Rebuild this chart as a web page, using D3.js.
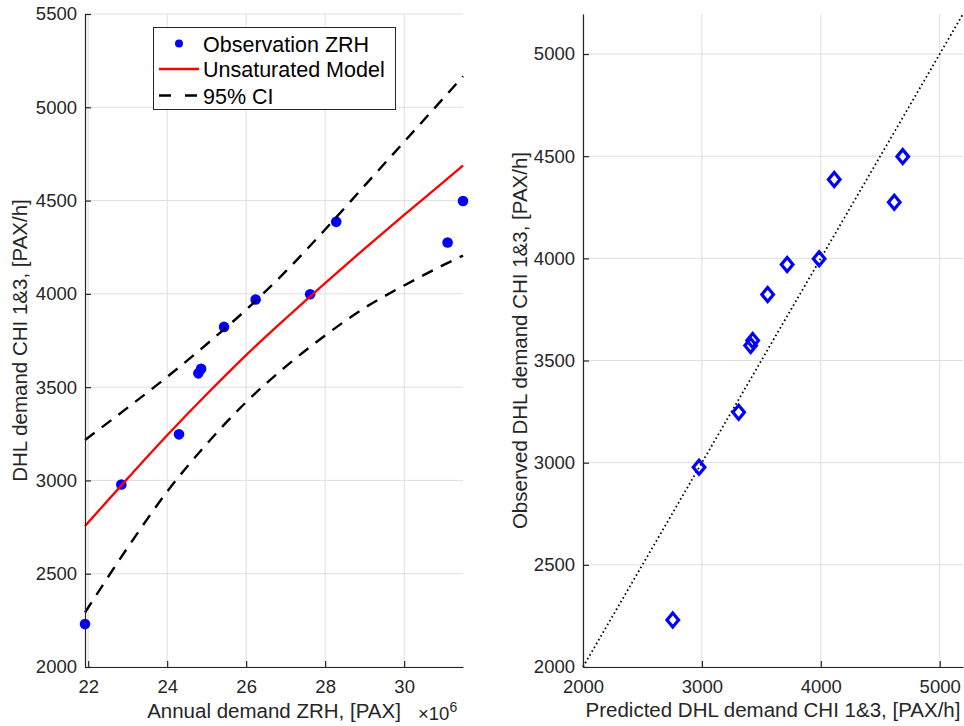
<!DOCTYPE html>
<html>
<head>
<meta charset="utf-8">
<script src="https://cdn.jsdelivr.net/npm/d3@7"></script>
<style>
  body { margin: 0; background: #fff; }
  svg { display: block; font-family: "Liberation Sans", Arial, Helvetica, sans-serif; }
</style>
</head>
<body>
<svg id="fig" width="964" height="726"></svg>
<script>
// Annual ZRH demand (millions of PAX) for each observed year
const annualDemand = [21.92, 22.84, 24.30, 24.79, 24.86, 25.44, 26.24, 27.62, 28.28, 31.10, 31.49];
// Observed DHL demand at CHI 1&3 [PAX/h]
const observedDHL = [2230, 2978, 3247, 3574, 3598, 3823, 3970, 3998, 4386, 4275, 4498];
// Unsaturated model prediction at the observed annual demands [PAX/h]
const predictedDHL = [2755, 2976, 3309, 3410, 3427, 3553, 3717, 3986, 4113, 4618, 4689];
// Model curve and its 95% confidence band along the annual demand axis
const curveDemand = [21.92, 23, 24, 25, 26, 27, 28, 29, 30, 31, 31.49];
const modelCurve = [2756, 3011, 3242, 3462, 3672, 3868, 4058, 4243, 4423, 4600, 4688];
const ciLower = [2292, 2640, 2940, 3195, 3420, 3610, 3777, 3925, 4045, 4155, 4205];
const ciUpper = [3217, 3390, 3555, 3730, 3915, 4120, 4345, 4580, 4815, 5050, 5166];

// Tick values
const leftXTicks = [22, 24, 26, 28, 30];
const leftYTicks = [2000, 2500, 3000, 3500, 4000, 4500, 5000, 5500];
const rightXTicks = [2000, 3000, 4000, 5000];
const rightYTicks = [2000, 2500, 3000, 3500, 4000, 4500, 5000];

const legendLabels = ["Observation ZRH", "Unsaturated Model", "95% CI"];

const svg = d3.select("#fig");
svg.append("rect").attr("width", 964).attr("height", 726).attr("fill", "#fff");

const AX = "#262626";
const GRID = "#dfdfdf";
const TICK_FONT = "18.5px";
const LABEL_FONT = "20.5px";

function styleAxis(g) {
  g.attr("font-family", null).attr("font-size", null);
  g.select(".domain").attr("stroke", AX).attr("stroke-width", 1.2);
  g.selectAll(".tick line").attr("stroke", AX).attr("stroke-width", 1.2);
  g.selectAll(".tick text").attr("fill", AX).style("font-size", TICK_FONT);
}

function grid(g, x, y, xt, yt) {
  const [x0, x1] = x.range();
  const [y0, y1] = y.range();
  g.selectAll("line.gx").data(xt).join("line")
    .attr("x1", d => x(d)).attr("x2", d => x(d))
    .attr("y1", y0).attr("y2", y1)
    .attr("stroke", GRID).attr("stroke-width", 1);
  g.selectAll("line.gy").data(yt).join("line")
    .attr("x1", x0).attr("x2", x1)
    .attr("y1", d => y(d)).attr("y2", d => y(d))
    .attr("stroke", GRID).attr("stroke-width", 1);
}

// ---------- Left panel: demand vs annual traffic ----------
const xL = d3.scaleLinear([21.92, 31.49], [85, 463]);
const yL = d3.scaleLinear([2000, 5500], [667, 14]);

const left = svg.append("g");
grid(left.append("g"), xL, yL, leftXTicks, leftYTicks);

const obs = annualDemand.map((a, i) => ({ a, v: observedDHL[i], p: predictedDHL[i] }));

left.append("g").selectAll("circle").data(obs).join("circle")
  .attr("cx", d => xL(d.a)).attr("cy", d => yL(d.v))
  .attr("r", 5.3).attr("fill", "#0000ff");

const curveLine = (vals) => d3.line()
  .x((d, i) => xL(curveDemand[i])).y(d => yL(d)).curve(d3.curveMonotoneX)(vals);

left.append("path").attr("d", curveLine(modelCurve))
  .attr("fill", "none").attr("stroke", "#ff0000").attr("stroke-width", 2.3);

[ciLower, ciUpper].forEach(vals => {
  left.append("path").attr("d", curveLine(vals))
    .attr("fill", "none").attr("stroke", "#000").attr("stroke-width", 2.4)
    .attr("stroke-dasharray", "12,9");
});

left.append("g").attr("transform", "translate(0,667)")
  .call(d3.axisBottom(xL).tickValues(leftXTicks).tickFormat(d3.format("d"))
    .tickSizeInner(-6).tickSizeOuter(0).tickPadding(13))
  .call(styleAxis);
left.append("g").attr("transform", "translate(85,0)")
  .call(d3.axisLeft(yL).tickValues(leftYTicks).tickFormat(d3.format("d"))
    .tickSizeInner(-6).tickSizeOuter(0).tickPadding(8))
  .call(styleAxis);

left.append("text").attr("x", 274).attr("y", 718).attr("text-anchor", "middle")
  .attr("fill", AX).style("font-size", LABEL_FONT).text("Annual demand ZRH, [PAX]");
const expo = left.append("text").attr("x", 418).attr("y", 720)
  .attr("fill", AX).style("font-size", "18.5px");
expo.append("tspan").text("×10");
expo.append("tspan").attr("dy", -8).style("font-size", "14px").text("6");

left.append("text")
  .attr("transform", "translate(27,340.5) rotate(-90)")
  .attr("text-anchor", "middle").attr("fill", AX).style("font-size", LABEL_FONT)
  .text("DHL demand CHI 1&3, [PAX/h]");

// Legend
const lg = left.append("g");
lg.append("rect").attr("x", 153.5).attr("y", 27.5).attr("width", 242).attr("height", 82)
  .attr("fill", "#fff").attr("stroke", AX).attr("stroke-width", 1);
const rowY = [43.5, 69, 95.5];
lg.append("circle").attr("cx", 179).attr("cy", rowY[0]).attr("r", 4).attr("fill", "#0000ff");
lg.append("line").attr("x1", 159).attr("x2", 199).attr("y1", rowY[1]).attr("y2", rowY[1])
  .attr("stroke", "#ff0000").attr("stroke-width", 2.3);
lg.append("line").attr("x1", 159).attr("x2", 199).attr("y1", rowY[2]).attr("y2", rowY[2])
  .attr("stroke", "#000").attr("stroke-width", 2.4).attr("stroke-dasharray", "12,14");
lg.selectAll("text").data(legendLabels).join("text")
  .attr("x", 203).attr("y", (d, i) => rowY[i] + 8)
  .attr("fill", "#000").style("font-size", "21.5px").text(d => d);

// ---------- Right panel: observed vs predicted ----------
const xR = d3.scaleLinear([2000, 5196], [583, 963]);
const yR = d3.scaleLinear([2000, 5196], [667, 14]);

const right = svg.append("g");
grid(right.append("g"), xR, yR, rightXTicks, rightYTicks);

right.append("line")
  .attr("x1", xR(2000)).attr("y1", yR(2000)).attr("x2", xR(5196)).attr("y2", yR(5196))
  .attr("stroke", "#000").attr("stroke-width", 1.8).attr("stroke-dasharray", "1.6,2.8");

const diamond = "M0,-7L5.8,0L0,7L-5.8,0Z";
right.append("g").selectAll("path").data(obs).join("path")
  .attr("transform", d => `translate(${xR(d.p)},${yR(d.v)})`)
  .attr("d", diamond).attr("fill", "none").attr("stroke", "#0000ff")
  .attr("stroke-width", 3.2).attr("stroke-linejoin", "miter");

right.append("g").attr("transform", "translate(0,667)")
  .call(d3.axisBottom(xR).tickValues(rightXTicks).tickFormat(d3.format("d"))
    .tickSizeInner(-6).tickSizeOuter(0).tickPadding(13))
  .call(styleAxis);
right.append("g").attr("transform", "translate(583,0)")
  .call(d3.axisLeft(yR).tickValues(rightYTicks).tickFormat(d3.format("d"))
    .tickSizeInner(-6).tickSizeOuter(0).tickPadding(8))
  .call(styleAxis);

right.append("text").attr("x", 773).attr("y", 717).attr("text-anchor", "middle")
  .attr("fill", AX).style("font-size", LABEL_FONT).text("Predicted DHL demand CHI 1&3, [PAX/h]");
right.append("text")
  .attr("transform", "translate(527,340.5) rotate(-90)")
  .attr("text-anchor", "middle").attr("fill", AX).style("font-size", LABEL_FONT)
  .text("Observed DHL demand CHI 1&3, [PAX/h]");
</script>
</body>
</html>
